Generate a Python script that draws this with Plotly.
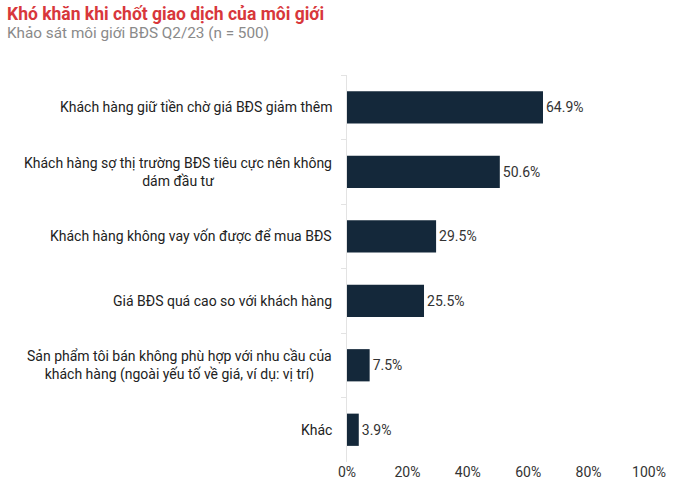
import plotly.graph_objects as go

categories = [
    "Khách hàng giữ tiền chờ giá BĐS giảm thêm",
    "Khách hàng sợ thị trường BĐS tiêu cực nên không<br>dám đầu tư",
    "Khách hàng không vay vốn được để mua BĐS",
    "Giá BĐS quá cao so với khách hàng",
    "Sản phẩm tôi bán không phù hợp với nhu cầu của<br>khách hàng (ngoài yếu tố về giá, ví dụ: vị trí)",
    "Khác",
]
values = [0.649, 0.506, 0.295, 0.255, 0.075, 0.039]
value_labels = ["64.9%", "50.6%", "29.5%", "25.5%", "7.5%", "3.9%"]
x_ticks = [0, 0.2, 0.4, 0.6, 0.8, 1.0]
x_tick_labels = ["0%", "20%", "40%", "60%", "80%", "100%"]
title_text = "Khó khăn khi chốt giao dịch của môi giới"
subtitle_text = "Khảo sát môi giới BĐS Q2/23 (n = 500)"

FONT = "Roboto, Arial, sans-serif"

fig = go.Figure()
fig.add_trace(go.Bar(
    x=values,
    y=categories,
    orientation="h",
    marker=dict(color="#14283a", line=dict(width=0)),
    width=0.5,
    text=value_labels,
    textposition="outside",
    textfont=dict(family=FONT, size=14, color="#333333"),
    cliponaxis=False,
    hoverinfo="skip",
))

for c in categories:
    fig.add_annotation(
        x=0, xref="paper", y=c, yref="y",
        text=c, showarrow=False, xanchor="right", xshift=-13,
        align="center",
        font=dict(family=FONT, size=14, color="#222222"),
    )

fig.add_annotation(
    x=0, xref="paper", xshift=-342, y=1, yref="paper", yshift=61,
    yanchor="middle", xanchor="left", showarrow=False,
    text="<b>" + title_text + "</b>",
    font=dict(family=FONT, size=17.5, color="#d8373b"),
)
fig.add_annotation(
    x=0, xref="paper", xshift=-342, y=1, yref="paper", yshift=42,
    yanchor="middle", xanchor="left", showarrow=False,
    text=subtitle_text,
    font=dict(family=FONT, size=15.3, color="#8a8a8a"),
)

fig.update_layout(
    width=700, height=495,
    margin=dict(l=347, r=51, t=75, b=33),
    paper_bgcolor="white", plot_bgcolor="white",
    showlegend=False,
    xaxis=dict(
        range=[0, 1], tickvals=x_ticks, ticktext=x_tick_labels,
        showgrid=False, zeroline=False, showline=False,
        tickfont=dict(family=FONT, size=14, color="#333333"),
        ticks="", ticklabelstandoff=0,
    ),
    yaxis=dict(
        autorange="reversed", type="category",
        showticklabels=False, showgrid=False, zeroline=False,
        showline=True, linecolor="#e3e3e3", linewidth=1,
        ticks="outside", tickson="boundaries", ticklen=5, tickcolor="#e3e3e3",
    ),
)

fig.write_html("out.html", config={"displayModeBar": False},
               post_script="document.body.style.margin='0';")
